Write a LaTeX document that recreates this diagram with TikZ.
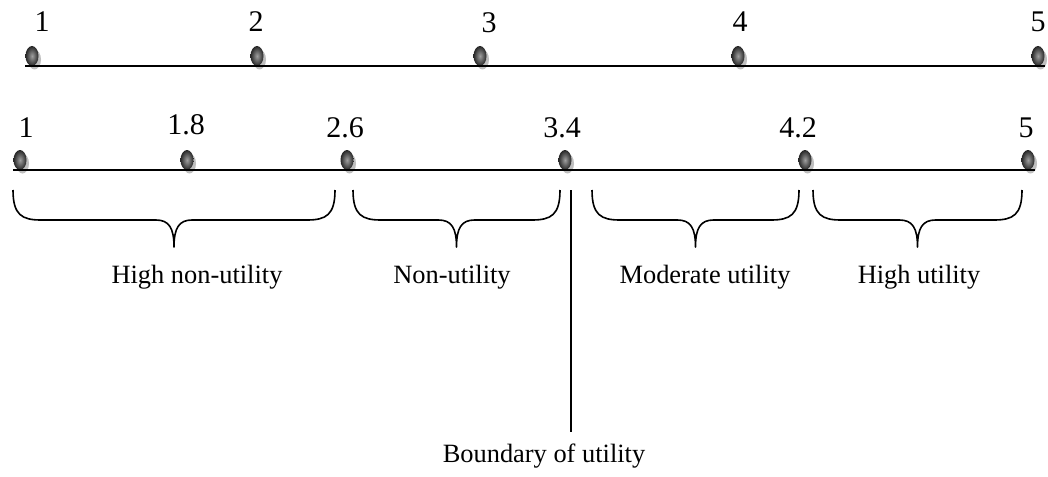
\documentclass[tikz,border=0pt]{standalone}
\usepackage{fontspec}
\setmainfont{Liberation Serif}
\usetikzlibrary{shapes.geometric,shadows,calc}
\tikzset{
  knob/.style={ellipse, minimum width=13pt, minimum height=20pt, inner sep=0pt,
    shading=radial, inner color=gray!75, outer color=black!85,
    drop shadow={shadow xshift=2.5pt, shadow yshift=-3.5pt, fill=gray!50, opacity=1}},
  axis/.style={line width=1.8pt},
  brace/.style={line width=1.6pt, line join=round},
  tick/.style={font=\fontsize{30}{32}\selectfont, inner sep=0pt, anchor=base},
  band/.style={font=\fontsize{26.4}{30}\selectfont, inner sep=0pt, anchor=base},
}
% curly brace opening upwards over the interval [#1,#2]
\newcommand\spanbrace[2]{%
  \draw[brace] (#1,190) .. controls (#1,215) and (#1+9,220) .. (#1+28,220)
    -- ({(#1+#2)/2-18},220) .. controls ({(#1+#2)/2-5},220) and ({(#1+#2)/2},228) .. ({(#1+#2)/2},247)
    .. controls ({(#1+#2)/2},228) and ({(#1+#2)/2+5},220) .. ({(#1+#2)/2+18},220)
    -- (#2-28,220) .. controls (#2-9,220) and (#2,215) .. (#2,190);
}
\begin{document}
\begin{tikzpicture}[x=1pt,y=-1pt]
\useasboundingbox (0,0) rectangle (1048,476);

% upper scale 1..5
\node[knob] (t1) at (32,56) {};
\node[knob] (t2) at (257,56) {};
\node[knob] (t3) at (480,56) {};
\node[knob] (t4) at (738,56) {};
\node[knob] (t5) at (1038,56) {};
\draw[axis] (t1.south -| t1.west) -- (t5.south -| t5.east);

\node[tick] (l1) at (42,32) {1};
\node[tick] (l2) at (256,32) {2};
\node[tick] (l3) at (489,33) {3};
\node[tick] (l4) at (740,32) {4};
\node[tick] (l5) at (1038,32) {5};

% lower scale with interval limits
\node[knob] (b1) at (20,160) {};
\node[knob] (b2) at (187,160) {};
\node[knob] (b3) at (347,160) {};
\node[knob] (b4) at (565,160) {};
\node[knob] (b5) at (805,160) {};
\node[knob] (b6) at (1028,160) {};
\draw[axis] (b1.south -| b1.west) -- (b6.south -| b6.east);

\node[tick] (m1) at (26,137) {1};
\node[tick] (m2) at (186,135) {1.8};
\node[tick] (m3) at (345,137) {2.6};
\node[tick] (m4) at (562,137) {3.4};
\node[tick] (m5) at (798,137) {4.2};
\node[tick] (m6) at (1026,137) {5};

% braces over the four intervals
\spanbrace{13}{335}
\spanbrace{353}{560}
\spanbrace{592}{799}
\spanbrace{813}{1022}

\node[band] (c1) at (197,283) {High non-utility};
\node[band] (c2) at (452,283) {Non-utility};
\node[band] (c3) at (705,283) {Moderate utility};
\node[band] (c4) at (919,283) {High utility};

% boundary marker
\coordinate (bt) at (571,190);
\coordinate (bb) at (571,432);
\draw[line width=1.5pt] (bt) -- (bb);
\node[band] (bnd) at (544,462) {Boundary of utility};
\end{tikzpicture}
\end{document}
